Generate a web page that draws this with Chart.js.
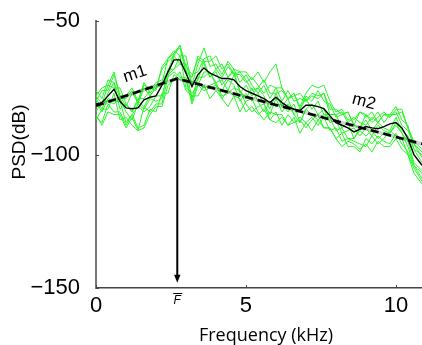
<!DOCTYPE html>
<html>
<head>
<meta charset="utf-8">
<script src="https://cdn.jsdelivr.net/npm/chart.js@4.4.1/dist/chart.umd.min.js"></script>
<style>
html,body{margin:0;padding:0;background:#fff;}
#wrap{width:422px;height:345px;position:relative;}
</style>
</head>
<body>
<div id="wrap"><canvas id="c"></canvas></div>
<script>
// ---- data ----
const freqKHz = [0,0.2,0.4,0.6,0.8,1,1.2,1.4,1.6,1.8,2,2.2,2.4,2.6,2.8,3,3.2,3.4,3.6,3.8,4,4.2,4.4,4.6,4.8,5,5.2,5.4,5.6,5.8,6,6.2,6.4,6.6,6.8,7,7.2,7.4,7.6,7.8,8,8.2,8.4,8.6,8.8,9,9.2,9.4,9.6,9.8,10,10.2,10.4,10.6,10.87];

const meanPsd = [-81,-80.5,-78,-75.5,-80,-82.5,-82.8,-82.5,-79.5,-78.5,-78,-74,-69,-64.5,-64.5,-69.5,-74.5,-70,-67.5,-69.5,-70.5,-71.5,-71.5,-72,-74.5,-76,-77,-78,-79,-80.5,-78.5,-80.5,-82,-83,-83.5,-81.5,-81.5,-82,-82.8,-85.5,-88,-89,-90,-91.5,-90.5,-89.5,-90,-90.3,-89.5,-88.5,-88,-90,-94,-100,-104];

const trial1 = [-80,-76,-76,-70,-78,-82,-77,-80,-73,-77,-74,-73,-64,-61,-63,-63,-74,-66,-60,-67,-66,-70,-65,-68,-69,-69,-72,-69,-73,-69,-66,-75,-79,-77,-82,-77,-74,-75,-74,-80,-84,-83,-87,-87,-84,-86,-84,-88,-85,-85,-85,-84,-90,-96,-99];
const trial2 = [-85,-89,-84,-85,-85,-90,-86,-91,-90,-85,-82,-82,-74,-72,-69,-76,-78,-78,-74,-79,-76,-79,-82,-78,-79,-84,-82,-85,-83,-87,-88,-86,-89,-86,-92,-88,-91,-87,-90,-90,-94,-97,-95,-96,-98,-96,-99,-95,-97,-97,-94,-98,-100,-107,-111];
const trial3 = [-80,-84,-79,-80,-80,-88,-85,-82,-84,-82,-78,-78,-70,-68,-63,-75,-77,-74,-69,-69,-74,-76,-72,-74,-80,-77,-80,-77,-81,-85,-79,-84,-81,-85,-88,-83,-85,-87,-85,-86,-91,-90,-94,-94,-91,-93,-91,-94,-92,-92,-89,-92,-97,-104,-107];
const trial4 = [-78,-81,-74,-75,-75,-81,-84,-79,-79,-76,-73,-72,-69,-62,-60,-69,-71,-64,-66,-71,-68,-66,-71,-68,-73,-70,-74,-77,-74,-79,-75,-80,-76,-80,-79,-80,-78,-79,-77,-85,-85,-84,-88,-86,-88,-89,-86,-88,-85,-86,-84,-89,-91,-96,-101];
const trial5 = [-87,-83,-83,-77,-87,-86,-89,-91,-82,-84,-81,-81,-71,-69,-71,-71,-80,-73,-75,-74,-73,-78,-77,-75,-76,-81,-84,-82,-81,-87,-84,-89,-85,-88,-86,-88,-86,-89,-86,-91,-90,-95,-94,-95,-96,-97,-93,-96,-94,-91,-93,-94,-100,-105,-110];
const trial6 = [-76,-79,-72,-73,-79,-79,-76,-81,-75,-78,-75,-68,-65,-63,-59,-67,-70,-69,-64,-63,-68,-71,-67,-70,-69,-72,-76,-75,-72,-77,-77,-76,-79,-77,-83,-78,-80,-76,-80,-81,-86,-85,-84,-89,-90,-85,-87,-84,-88,-85,-82,-87,-89,-98,-100];
const trial7 = [-84,-80,-80,-81,-79,-84,-87,-81,-83,-79,-80,-79,-68,-68,-66,-68,-79,-71,-71,-69,-73,-72,-76,-70,-76,-79,-75,-80,-84,-80,-82,-81,-84,-81,-88,-83,-81,-85,-83,-88,-87,-92,-91,-90,-93,-90,-93,-89,-91,-92,-88,-92,-95,-103,-106];
const trial8 = [-79,-83,-77,-73,-83,-81,-84,-80,-82,-78,-75,-74,-71,-63,-66,-66,-74,-72,-65,-71,-69,-74,-71,-69,-77,-74,-78,-75,-78,-83,-77,-82,-79,-85,-83,-79,-83,-80,-85,-85,-85,-90,-88,-94,-90,-87,-91,-88,-90,-91,-86,-91,-93,-98,-103];
const trial9 = [-86,-88,-81,-84,-84,-89,-85,-90,-89,-83,-84,-77,-77,-70,-72,-72,-81,-74,-76,-75,-74,-79,-76,-78,-84,-80,-79,-84,-87,-84,-85,-85,-89,-88,-87,-90,-87,-85,-90,-90,-94,-92,-97,-97,-99,-94,-96,-93,-95,-96,-92,-96,-99,-104,-109];
const trial10 = [-78,-75,-74,-69,-78,-78,-75,-80,-74,-75,-76,-67,-64,-62,-59,-69,-71,-63,-65,-65,-63,-68,-66,-70,-70,-73,-71,-74,-77,-74,-75,-75,-79,-78,-77,-80,-77,-78,-77,-83,-83,-85,-84,-89,-84,-85,-88,-86,-84,-86,-83,-83,-90,-95,-98];
const trials = [trial1,trial2,trial3,trial4,trial5,trial6,trial7,trial8,trial9,trial10];

// two-segment fit (m1, m2) and mean peak frequency F̄
const fitFreq = [0, 2.71, 10.87];
const fitPsd  = [-81.7, -71.5, -96];
const peakFreq = 2.71;
const peakPsd = -71.5;
const arrowTipPsd = -148;
const slopeLabels = ['m1','m2'];
const slopeLabelFreq = [1.3, 8.93];
const slopeLabelPsd = [-69.8, -80.2];

const xTicks = [0, 5, 10];
const yTicks = [-150, -100, -50];
const xMin = 0, xMax = 10.87, yMin = -150, yMax = -50;

// ---- build datasets ----
const pts = (xs, ys) => xs.map((v, i) => ({x: v, y: ys[i]}));
const datasets = [];
datasets.push({label:'fit', data: pts(fitFreq, fitPsd), borderColor:'#000', borderWidth:2.6,
  borderDash:[8,5], pointRadius:0, tension:0, order:0});
datasets.push({label:'fit-halo', data: pts(fitFreq, fitPsd), borderColor:'rgba(0,0,0,0.18)', borderWidth:3.5,
  pointRadius:0, tension:0, order:1});
datasets.push({label:'mean', data: pts(freqKHz, meanPsd), borderColor:'#000', borderWidth:1.4,
  pointRadius:0, tension:0, order:2});
trials.forEach((t, k) => datasets.push({label:'trial'+(k+1), data: pts(freqKHz, t),
  borderColor:'rgb(40,245,40)', borderWidth:1, pointRadius:0, tension:0, order:3}));

const fmt = v => (v < 0 ? '\u2212' + Math.abs(v) : String(v));

const overlay = {
  id: 'overlay',
  afterDatasetsDraw(chart) {
    const {ctx, scales:{x, y}} = chart;
    ctx.save();
    // arrow at F̄
    const ax = x.getPixelForValue(peakFreq);
    const y0 = y.getPixelForValue(peakPsd);
    const y1 = y.getPixelForValue(arrowTipPsd);
    ctx.strokeStyle = '#000'; ctx.lineWidth = 2;
    ctx.beginPath(); ctx.moveTo(ax, y0); ctx.lineTo(ax, y1 - 6); ctx.stroke();
    ctx.fillStyle = '#000';
    ctx.beginPath(); ctx.moveTo(ax - 3.2, y1 - 8); ctx.lineTo(ax + 3.2, y1 - 8); ctx.lineTo(ax, y1); ctx.closePath(); ctx.fill();
    // slope labels
    ctx.font = '17px "Liberation Sans", Arial, sans-serif';
    ctx.textAlign = 'center'; ctx.textBaseline = 'middle'; ctx.fillStyle = '#000';
    for (let i = 0; i < slopeLabels.length; i++) {
      const px0 = x.getPixelForValue(fitFreq[i]), py0 = y.getPixelForValue(fitPsd[i]);
      const px1 = x.getPixelForValue(fitFreq[i+1]), py1 = y.getPixelForValue(fitPsd[i+1]);
      const ang = Math.atan2(py1 - py0, px1 - px0);
      ctx.save();
      ctx.translate(x.getPixelForValue(slopeLabelFreq[i]), y.getPixelForValue(slopeLabelPsd[i]));
      ctx.rotate(ang);
      ctx.fillText(slopeLabels[i], 0, 0);
      ctx.restore();
    }
    ctx.restore();
  },
  afterDraw(chart) {
    const {ctx, scales:{x, y}, chartArea:a} = chart;
    ctx.save();
    // inward tick marks
    ctx.strokeStyle = '#444'; ctx.lineWidth = 1;
    xTicks.forEach(v => { const px = Math.round(x.getPixelForValue(v)) + 0.5;
      ctx.beginPath(); ctx.moveTo(px, a.bottom); ctx.lineTo(px, a.bottom - 3); ctx.stroke(); });
    yTicks.forEach(v => { const py = Math.round(y.getPixelForValue(v)) + 0.5;
      ctx.beginPath(); ctx.moveTo(a.left, py); ctx.lineTo(a.left + 3, py); ctx.stroke(); });
    // F̄ label
    const fx = x.getPixelForValue(peakFreq);
    ctx.fillStyle = '#000';
    ctx.font = 'italic 12px "Liberation Sans", Arial, sans-serif';
    ctx.textAlign = 'center'; ctx.textBaseline = 'middle';
    ctx.fillText('F', fx, 301);
    ctx.strokeStyle = '#000'; ctx.lineWidth = 1;
    ctx.beginPath(); ctx.moveTo(fx - 4, 293.5); ctx.lineTo(fx + 5, 293.5); ctx.stroke();
    // axis titles
    ctx.font = '18px "Open Sans", sans-serif';
    ctx.fillText('Frequency (kHz)', 266, 336);
    ctx.save();
    ctx.translate(20, 142);
    ctx.rotate(-Math.PI / 2);
    ctx.font = '19px "Liberation Sans", Arial, sans-serif';
    ctx.fillText('PSD(dB)', 0, 0);
    ctx.restore();
    ctx.restore();
  }
};

new Chart(document.getElementById('c'), {
  type: 'line',
  data: { datasets },
  options: {
    responsive: true, maintainAspectRatio: false, animation: false,
    layout: { padding: { top: 20, right: 0, bottom: 0, left: 0 } },
    plugins: { legend: { display: false }, tooltip: { enabled: false } },
    scales: {
      x: {
        type: 'linear', min: xMin, max: xMax,
        afterBuildTicks: s => { s.ticks = xTicks.map(v => ({value: v})); },
        afterFit: s => { s.height = 57; },
        grid: { display: false },
        border: { color: '#444', width: 1.5 },
        ticks: { font: { size: 22, family: '"Liberation Sans", Arial, sans-serif' }, color: '#000',
                 padding: -3, maxRotation: 0, callback: v => fmt(v) },
        title: { display: false }
      },
      y: {
        type: 'linear', min: yMin, max: yMax,
        afterBuildTicks: s => { s.ticks = yTicks.map(v => ({value: v})); },
        afterFit: s => { s.width = 96; },
        grid: { display: false },
        border: { color: '#777', width: 2 },
        ticks: { font: { size: 22, family: '"Liberation Sans", Arial, sans-serif' }, color: '#000',
                 padding: 8, callback: v => fmt(v) },
        title: { display: false }
      }
    }
  },
  plugins: [overlay]
});
</script>
</body>
</html>
